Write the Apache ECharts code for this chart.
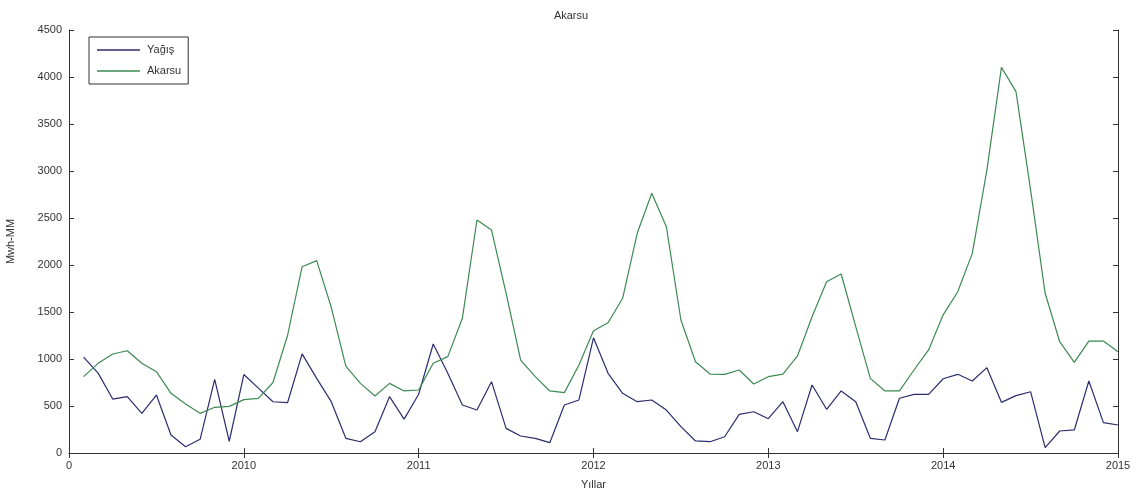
<!DOCTYPE html>
<html>
<head>
<meta charset="utf-8">
<script src="https://cdn.jsdelivr.net/npm/echarts@6/dist/echarts.min.js"></script>
<style>html,body{margin:0;padding:0;background:#fff}#c{width:1142px;height:493px}</style>
</head>
<body>
<div id="c"></div>
<script>
const startYear = 2009;
const yearTicks = [2009, 2010, 2011, 2012, 2013, 2014, 2015];
const yagis = [
  1020, 850, 574, 600, 422, 617, 191, 67, 146, 784, 125, 835,
  690, 545, 535, 1055, 794, 546, 156, 120, 227, 599, 360, 625,
  1160, 848, 511, 457, 759, 262, 181, 156, 110, 511, 564, 1225,
  848, 635, 546, 564, 457, 280, 128, 120, 173, 411, 439, 365,
  546, 227, 723, 465, 660, 546, 156, 138, 582, 624, 624, 790,
  837, 766, 908, 539, 610, 652, 57, 234, 245, 766, 323, 298
];
const akarsu = [
  812, 954, 1053, 1088, 954, 865, 635, 521, 422, 486, 496, 568,
  582, 750, 1250, 1982, 2046, 1550, 925, 741, 606, 741, 660, 670,
  954, 1025, 1433, 2479, 2372, 1700, 989, 812, 660, 642, 936, 1300,
  1386, 1646, 2337, 2763, 2408, 1415, 971, 840, 837, 883, 734, 812,
  840, 1032, 1450, 1822, 1904, 1344, 794, 660, 660, 883, 1096, 1470,
  1716, 2124, 3010, 4103, 3844, 2800, 1699, 1184, 965, 1191, 1191, 1078
];

const toPairs = arr => arr.map((v, i) => [startYear + (i + 1) / 12, v]);
const font = '"Liberation Sans", Arial, sans-serif';
const txt = '#333';
const axisLineStyle = { color: '#333', width: 1 };
const colY = '#2b2d6e', colA = '#3d8a52';

const chart = echarts.init(document.getElementById('c'), null, { renderer: 'canvas' });
chart.setOption({
  animation: false,
  backgroundColor: '#fff',
  title: {
    text: 'Akarsu', left: 'center', top: 5,
    textStyle: { fontFamily: font, fontSize: 11, fontWeight: 'normal', color: txt }
  },
  legend: {
    orient: 'vertical', left: 89, top: 37,
    backgroundColor: '#fff', borderColor: '#333', borderWidth: 1, borderRadius: 0,
    padding: [6, 7, 6, 8], itemGap: 7, itemWidth: 43, itemHeight: 1.3,
    textStyle: { fontFamily: font, fontSize: 11, color: txt, padding: [0, 0, 0, 2], lineHeight: 14 },
    data: [
      { name: 'Yağış', icon: 'rect', itemStyle: { color: colY } },
      { name: 'Akarsu', icon: 'rect', itemStyle: { color: colA } }
    ]
  },
  grid: { left: 69, right: 24, top: 30, bottom: 40, containLabel: false, outerBoundsMode: 'none' },
  xAxis: [{
    type: 'value', min: yearTicks[0], max: yearTicks[yearTicks.length - 1], interval: 1,
    name: 'Yıllar', nameLocation: 'middle', nameGap: 26,
    nameTextStyle: { fontFamily: font, fontSize: 11, color: txt },
    axisLine: { show: true, lineStyle: axisLineStyle },
    axisTick: { show: true, inside: true, length: 5, lineStyle: axisLineStyle },
    axisLabel: {
      fontFamily: font, fontSize: 11, color: txt, margin: 7,
      formatter: v => (v === yearTicks[0] ? '0' : String(v))
    },
    splitLine: { show: false }
  }, {
    type: 'value', position: 'top', min: yearTicks[0], max: yearTicks[yearTicks.length - 1], interval: 1,
    axisLine: { show: true, lineStyle: axisLineStyle },
    axisTick: { show: true, inside: true, length: 5, lineStyle: axisLineStyle },
    axisLabel: { show: false }, splitLine: { show: false }
  }],
  yAxis: [{
    type: 'value', min: 0, max: 4500, interval: 500,
    name: 'Mwh-MM', nameLocation: 'middle', nameGap: 53, nameRotate: 90,
    nameTextStyle: { fontFamily: font, fontSize: 11, color: txt },
    axisLine: { show: true, lineStyle: axisLineStyle },
    axisTick: { show: true, inside: true, length: 5, lineStyle: axisLineStyle },
    axisLabel: { fontFamily: font, fontSize: 11, color: txt, margin: 7, formatter: v => String(v) },
    splitLine: { show: false }
  }, {
    type: 'value', position: 'right', min: 0, max: 4500, interval: 500,
    axisLine: { show: true, lineStyle: axisLineStyle },
    axisTick: { show: true, inside: true, length: 5, lineStyle: axisLineStyle },
    axisLabel: { show: false }, splitLine: { show: false }
  }],
  series: [{
    name: 'Yağış', type: 'line', data: toPairs(yagis),
    symbol: 'none', lineStyle: { color: colY, width: 1.2 }, itemStyle: { color: colY }
  }, {
    name: 'Akarsu', type: 'line', data: toPairs(akarsu),
    symbol: 'none', lineStyle: { color: colA, width: 1.2 }, itemStyle: { color: colA }
  }]
});
</script>
</body>
</html>
